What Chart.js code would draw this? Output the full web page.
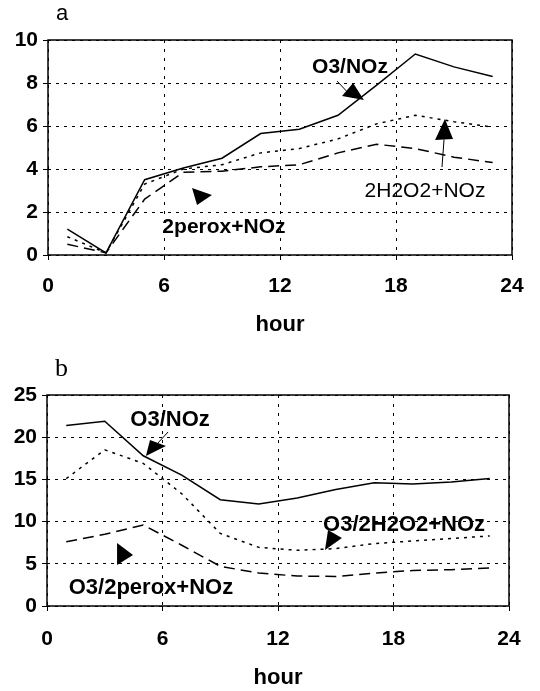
<!DOCTYPE html>
<html>
<head>
<meta charset="utf-8">
<script src="https://cdn.jsdelivr.net/npm/chart.js@4/dist/chart.umd.min.js"></script>
<style>
  html, body { margin: 0; padding: 0; background: #fff; }
  #wrap { position: relative; width: 540px; height: 691px; }
  canvas { position: absolute; left: 0; }
</style>
</head>
<body>
<div id="wrap">
  <canvas id="chartA" width="540" height="345" style="top:0"></canvas>
  <canvas id="chartB" width="540" height="346" style="top:345px"></canvas>
</div>
<script>
// hours of the day (values are 2-hour averages centred on odd hours)
const hours = [1, 3, 5, 7, 9, 11, 13, 15, 17, 19, 21, 23];

// panel a
const aO3NOz  = [1.2, 0.1, 3.5, 4.05, 4.5, 5.65, 5.85, 6.5, 7.9, 9.35, 8.75, 8.3];
const aH2O2   = [0.85, 0.1, 3.3, 4.0, 4.2, 4.75, 4.95, 5.4, 6.1, 6.5, 6.2, 5.95];
const aPerox  = [0.5, 0.1, 2.6, 3.85, 3.9, 4.1, 4.2, 4.75, 5.15, 4.95, 4.55, 4.3];

// panel b
const bO3NOz  = [21.4, 21.9, 17.8, 15.5, 12.6, 12.1, 12.8, 13.8, 14.6, 14.45, 14.7, 15.1];
const bH2O2   = [15.1, 18.5, 16.9, 13.3, 8.6, 6.95, 6.6, 6.8, 7.4, 7.7, 8.0, 8.3];
const bPerox  = [7.6, 8.5, 9.6, 7.2, 4.7, 3.9, 3.55, 3.5, 3.9, 4.2, 4.3, 4.5];

const xTicks = [0, 6, 12, 18, 24];

// text labels and arrows, given in data coordinates
const notesA = {
  labels: [
    { text: 'O3/NOz', x: 15.62, y: 8.74, bold: true, size: 21 },
    { text: '2perox+NOz', x: 9.1, y: 1.3, bold: true, size: 21 },
    { text: '2H2O2+NOz', x: 19.5, y: 2.98, bold: false, size: 21 }
  ],
  arrows: [
    { tail: [14.95, 8.09], head: [[15.21, 7.40], [15.78, 8.0], [16.34, 7.21]] },
    { tail: null, head: [[7.45, 3.12], [8.48, 2.79], [7.71, 2.33]] },
    { tail: [20.38, 4.09], head: [[20.02, 5.35], [20.53, 6.33], [20.95, 5.40]] }
  ]
};
const notesB = {
  labels: [
    { text: 'O3/NOz', x: 6.39, y: 22.04, bold: true, size: 22 },
    { text: 'O3/2H2O2+NOz', x: 18.55, y: 9.6, bold: true, size: 22 },
    { text: 'O3/2perox+NOz', x: 5.4, y: 2.13, bold: true, size: 22 }
  ],
  arrows: [
    { tail: [6.29, 20.62], head: [[5.35, 19.67], [5.14, 17.77], [6.18, 18.96]] },
    { tail: null, head: [[14.6, 9.0], [15.32, 8.06], [14.44, 6.64]] },
    { tail: null, head: [[3.64, 7.46], [4.47, 6.04], [3.64, 4.86]] }
  ]
};

const FONT = "'Liberation Sans', Arial, sans-serif";

function toPoints(ys) {
  return hours.map((h, i) => ({ x: h, y: ys[i] }));
}

// box around the plot, panel letter, annotations
const decor = {
  id: 'decor',
  afterDatasetsDraw(chart, args, opts) {
    const { ctx, chartArea: a, scales: { x, y } } = chart;
    ctx.save();
    ctx.strokeStyle = '#000';
    ctx.lineWidth = 1.5;
    ctx.setLineDash([]);
    ctx.strokeRect(a.left, a.top, a.right - a.left, a.bottom - a.top);

    ctx.fillStyle = '#000';
    ctx.font = opts.letterFont;
    ctx.textAlign = 'left';
    ctx.textBaseline = 'middle';
    ctx.fillText(opts.letter, a.left + 8, a.top - 26);

    ctx.textAlign = 'center';
    opts.notes.labels.forEach(l => {
      ctx.font = (l.bold ? 'bold ' : '') + l.size + 'px ' + FONT;
      ctx.fillText(l.text, x.getPixelForValue(l.x), y.getPixelForValue(l.y));
    });

    opts.notes.arrows.forEach(ar => {
      const pts = ar.head.map(p => [x.getPixelForValue(p[0]), y.getPixelForValue(p[1])]);
      if (ar.tail) {
        const mx = (pts[0][0] + pts[2][0]) / 2, my = (pts[0][1] + pts[2][1]) / 2;
        ctx.lineWidth = 1;
        ctx.beginPath();
        ctx.moveTo(x.getPixelForValue(ar.tail[0]), y.getPixelForValue(ar.tail[1]));
        ctx.lineTo(mx, my);
        ctx.stroke();
      }
      ctx.beginPath();
      ctx.moveTo(pts[0][0], pts[0][1]);
      ctx.lineTo(pts[1][0], pts[1][1]);
      ctx.lineTo(pts[2][0], pts[2][1]);
      ctx.closePath();
      ctx.fill();
    });
    ctx.restore();
  }
};

function makeChart(id, series, yMax, yStep, box, notes, letter, letterFont) {
  const dashes = [[], [3, 5], [11, 6]];
  return new Chart(document.getElementById(id), {
    type: 'line',
    data: {
      datasets: series.map((s, i) => ({
        data: toPoints(s),
        borderColor: '#000',
        borderWidth: 1.5,
        borderDash: dashes[i],
        pointRadius: 0,
        tension: 0,
        fill: false
      }))
    },
    options: {
      responsive: false,
      animation: false,
      layout: { padding: { top: box.top, right: box.right, left: 0, bottom: 0 } },
      plugins: {
        legend: { display: false },
        tooltip: { enabled: false },
        decor: { notes: notes, letter: letter, letterFont: letterFont }
      },
      scales: {
        x: {
          type: 'linear',
          min: 0,
          max: 24,
          afterBuildTicks: (s) => { s.ticks = xTicks.map(v => ({ value: v })); },
          afterFit: (s) => { s.height = box.axisH; },
          grid: { color: '#000', lineWidth: 1, tickLength: 5, tickBorderDash: [], tickColor: '#000' },
          border: { display: false, dash: [3, 6] },
          ticks: { color: '#000', padding: box.xPad, maxRotation: 0, font: { family: FONT, size: 21, weight: 'bold' } },
          title: {
            display: true,
            text: 'hour',
            color: '#000',
            padding: { top: 0, bottom: box.titlePad },
            font: { family: FONT, size: 22, weight: 'bold' }
          }
        },
        y: {
          min: 0,
          max: yMax,
          afterFit: (s) => { s.width = box.left; },
          grid: { color: '#000', lineWidth: 1, tickLength: 5, tickBorderDash: [], tickColor: '#000' },
          border: { display: false, dash: [3, 5] },
          ticks: { stepSize: yStep, color: '#000', padding: 5, font: { family: FONT, size: 21, weight: 'bold' } }
        }
      }
    },
    plugins: [decor]
  });
}

makeChart('chartA', [aO3NOz, aH2O2, aPerox], 10, 2,
  { top: 40, right: 28, left: 48, axisH: 90, xPad: 14, titlePad: 7 },
  notesA, 'a', "22px " + FONT);

makeChart('chartB', [bO3NOz, bH2O2, bPerox], 25, 5,
  { top: 50, right: 31, left: 47, axisH: 85, xPad: 16, titlePad: 0 },
  notesB, 'b', "26px 'Liberation Serif', serif");
</script>
</body>
</html>
